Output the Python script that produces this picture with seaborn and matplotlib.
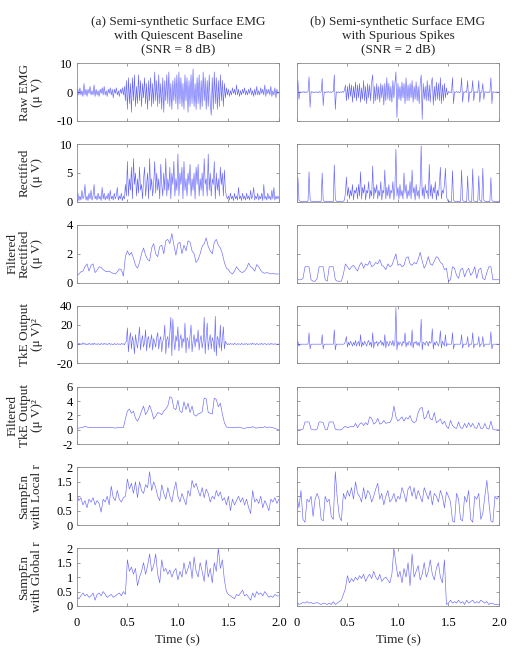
import numpy as np
import matplotlib
matplotlib.use("Agg")
import matplotlib.pyplot as plt
import seaborn as sns

# ——— Data (time axis 0..2 s, uniform sampling per trace) ———
raw_a = [
    -2, 1, -1, 1.5, -1, 0.5, -1.5, 3, -1, 1,
    -1.5, 1, -0.5, 2, -1, 0.5, -1, 2.5, -1.5, 1,
    -1, 0.5, -1.5, 1, -0.5, 1.5, -1, 2, -1, 0.5,
    -1.5, 1, -0.5, 1.5, -1, 1, -2, 1, -0.5, 1.5,
    -1, 0.5, -1.5, 1, -0.5, 1.5, -1, 2, -3, 4,
    -6, 5, -4, 3, -7, 5, -3, 6, -5, 2,
    -4, 6, -3, 4, -5, 3, -2, 5, -4, 3,
    -6, 4, -3, 5, -5, 3, -4, 7, -3, 4,
    -5, 6, -4, 3, -6, 5, -7, 4, -3, 6,
    -4, 7, -5, 3, -6, 4, -3, 5, -4, 6,
    -6, 7, -4, 5, -5, 3, -6, 6, -3, 5,
    -7, 4, -5, 6, -4, 8, -5, 3, -6, 5,
    -4, 6, -6, 4, -5, 7, -3, 5, -6, 4,
    -5, 6, -4, -8, 5, -6, 7, -4, 5, -6,
    4, -5, 6, -3, 4, -5, 3, -2, 1.5, -1,
    1, -1.5, 0.5, -1, 1.5, -0.5, 1, -1, 2.5, -1,
    1, -1.5, 0.5, -1, 1, -0.5, 1.5, -1, 0.5, -1,
    1, -0.5, 1.5, -1, 0.5, -1.5, 1, -1, 2, -1,
    0.5, -1, 1.5, -0.5, 1, -1, 2.5, -1.5, 1, -0.5,
    1, -1, 2, -1.5, 0.5, -1, 1.5, -2, 1, -0.5,
    0,
]
rect_a = [
    0.5, 1.5, 0.2, 1, 0.3, 2, 0.5, 1, 3, 0.3,
    1, 0.2, 1.5, 0.5, 2, 0.3, 1, 3, 0.5, 1,
    0.3, 1.5, 0.5, 1, 0.2, 2.5, 0.5, 1.5, 0.3, 1,
    0.5, 1.5, 0.2, 2, 0.5, 1, 0.3, 1.5, 0.5, 1,
    2.5, 0.3, 1, 0.5, 1.5, 0.2, 1, 0.5, 3, 1,
    7, 1, 4, 2, 6, 0.5, 7.5, 3, 5, 1,
    4, 1.5, 6, 2, 3, 0.5, 4, 6, 1, 3,
    5, 0.5, 7.5, 2, 4, 1, 3, 7, 1.5, 5,
    2, 4, 0.5, 6.5, 3, 1, 5, 2, 7.5, 1,
    4, 2, 6, 0.5, 5, 3, 7, 1, 4, 2,
    8.3, 1, 5, 3, 6, 0.5, 7, 2, 4, 1,
    5, 3, 6.5, 1, 4, 2, 5, 0.5, 6, 3,
    6.5, 1, 4, 2, 5, 1, 7.5, 3, 4, 1,
    8.3, 2, 5, 1, 4, 3, 7, 0.5, 5, 2,
    4, 1, 6, 3, 5, 1, 5.5, 2, 1, 0.5,
    1, 0.3, 1.5, 0.5, 1, 0.2, 1.5, 0.5, 1, 0.3,
    2.5, 0.5, 1, 0.2, 1.5, 0.5, 1, 0.3, 1.5, 0.5,
    1, 0.3, 2, 0.5, 1, 2.5, 0.3, 1, 0.5, 1.5,
    0.3, 1, 0.5, 1.5, 0.2, 3, 0.5, 1, 0.3, 1.5,
    0.5, 1, 0.3, 2, 0.5, 2.5, 0.3, 1, 0.5, 1,
    0.5,
]
filt_rect_a = [
    0.5, 0.6, 0.75, 0.8, 1.1, 1.3, 0.8, 1.2, 1.3, 0.7,
    0.85, 1.1, 1.05, 0.9, 0.8, 0.75, 0.8, 0.7, 0.65, 0.6,
    0.75, 0.95, 0.9, 0.45, 1.8, 2.2, 1.9, 2.1, 1.7, 1.2,
    1.0, 1.4, 2.0, 2.4, 1.9, 1.6, 1.5, 2.4, 2.7, 2.0,
    1.8, 2.5, 2.6, 2.0, 2.9, 3.0, 2.7, 3.4, 2.6, 1.9,
    2.7, 2.8, 2.0, 2.6, 2.2, 2.9, 2.8, 2.2, 2.0, 1.4,
    1.6, 2.0, 2.5, 2.7, 3.1, 2.5, 2.2, 2.0, 2.8, 3.0,
    2.6, 2.4, 2.0, 1.4, 1.0, 0.9, 0.7, 0.6, 0.8, 1.1,
    0.9, 0.75, 0.7, 0.8, 1.0, 1.35, 1.1, 1.0, 0.8, 1.25,
    1.1, 0.85, 0.7, 0.65, 0.7, 0.65, 0.6, 0.65, 0.6, 0.6,
    0.6,
]
tke_a = [
    0.5, -0.5, 1, 0, 0.5, -0.3, 1.5, 0, 0.8, -0.5,
    0.3, -0.4, 1, 0.2, -0.3, 0.8, -0.5, 1.2, 0, 0.4,
    -0.3, 0.6, 0, -0.5, 0.8, 0.2, -0.3, 1, 0, 0.5,
    -0.4, 0.3, 0.9, -0.2, 0.4, 0, -0.5, 0.7, 0.1, -0.3,
    0.6, 0, 0.3, -0.4, 0.8, 0, 0.5, -0.6, 1.5, 3,
    17, -8, 5, 12, -5, 8, 3, -10, 10, 2,
    -4, 6, 18, -6, 4, 9, -3, 2, 15, -7,
    5, 8, -4, 3, 10, -6, 6, 2, -3, 7,
    12, -5, 4, 8, -8, 3, 6, 20, -10, 5,
    8, -4, 12, 28, -12, 26, 4, -6, 9, 3,
    18, -7, 5, 10, -4, 6, 2, 22, -9, 7,
    4, -5, 9, 20, -8, 3, 10, -3, 6, 2,
    15, -6, 5, 9, -4, 3, 28, -10, 8, 22,
    -6, 4, 10, -5, 7, 3, -8, 29, -12, 8,
    5, -4, 20, -7, 6, 18, -5, 3, 1, -0.5,
    0.5, -0.3, 0.8, 0, 0.4, -0.5, 1, 0.2, -0.3, 0.6,
    0, 0.4, -0.4, 0.9, 0.1, -0.3, 0.5, 0, 0.7, -0.4,
    0.3, 0, 0.6, -0.3, 1.2, 0, 0.4, -0.5, 0.8, 0.1,
    -0.3, 0.5, 0, 0.9, -0.4, 0.3, 0.7, 0, -0.3, 0.5,
    0.2, -0.4, 1, 0, 0.4, -0.3, 0.6, 0.1, -0.2, 0.3,
    0,
]
filt_tke_a = [
    0.2, 0.25, 0.3, 0.35, 0.5, 0.4, 0.3, 0.35, 0.3, 0.3,
    0.35, 0.3, 0.3, 0.35, 0.3, 0.3, 0.35, 0.3, 0.3, 0.25,
    0.3, 0.3, 0.3, 0.3, 1.5, 2.6, 2.9, 2.3, 2.6, 1.6,
    1.2, 1.8, 2.6, 3.3, 2.1, 2.6, 3.4, 2.6, 1.5, 1.9,
    2.4, 2.3, 2.1, 2.6, 2.9, 3.3, 4.6, 4.4, 3.0, 2.8,
    4.1, 2.6, 2.4, 3.9, 2.8, 3.7, 2.4, 3.3, 2.1, 1.9,
    2.2, 2.3, 2.5, 4.4, 4.3, 2.4, 2.3, 2.2, 4.4, 4.2,
    3.2, 3.7, 2.2, 1.0, 0.4, 0.35, 0.3, 0.3, 0.35, 0.3,
    0.4, 0.3, 0.25, 0.2, 0.3, 0.35, 0.3, 0.45, 0.3, 0.25,
    0.3, 0.35, 0.3, 0.45, 0.3, 0.4, 0.35, 0.3, 0.2, 0.1,
    0.05,
]
sampen_local_a = [
    1.05, 0.85, 0.95, 0.7, 0.85, 0.6, 0.9, 0.8, 0.95, 0.7,
    0.85, 0.75, 0.45, 0.9, 0.8, 1.0, 0.7, 1.35, 0.95, 0.85,
    1.2, 0.9, 0.8, 0.95, 1.0, 1.6, 1.25, 1.45, 1.1, 1.5,
    0.95, 1.5, 1.2, 1.1, 1.4, 1.3, 1.85, 1.2, 1.5, 1.3,
    1.0, 0.85, 1.4, 1.1, 0.9, 1.3, 1.0, 0.8, 1.2, 1.5,
    1.0, 0.8, 1.1, 0.9, 0.7, 1.2, 1.0, 1.55, 1.3, 1.45,
    1.2, 1.0, 1.3, 0.95, 1.25, 1.1, 0.8, 1.0, 0.9, 1.2,
    1.0, 1.15, 0.85, 0.95, 0.7, 1.0, 0.5, 0.9, 0.7, 0.85,
    1.0, 0.8, 0.95, 0.7, 0.9, 0.6, 0.4, 1.2, 0.8, 0.9,
    0.75, 1.0, 0.6, 0.85, 0.7, 0.5, 0.9, 0.8, 0.95, 0.75,
    0.9,
]
sampen_global_a = [
    0.3, 0.25, 0.35, 0.45, 0.35, 0.4, 0.3, 0.35, 0.45, 0.2,
    0.4, 0.45, 0.35, 0.5, 0.4, 0.3, 0.35, 0.4, 0.3, 0.35,
    0.4, 0.45, 0.35, 0.5, 0.4, 1.6, 1.2, 1.35, 1.1, 1.3,
    0.7, 1.0, 1.2, 1.5, 1.1, 1.4, 1.8, 1.2, 1.4, 1.8,
    1.1, 0.8, 1.6, 1.2, 1.3, 1.1, 1.25, 1.0, 1.2, 1.3,
    0.9, 1.2, 1.0, 1.5, 1.1, 1.3, 1.55, 0.95, 1.7, 1.2,
    1.0, 1.5, 1.2, 0.85, 1.6, 1.0, 1.3, 0.8, 1.5, 1.2,
    2.0, 1.3, 1.6, 0.9, 0.5, 0.4, 0.35, 0.3, 0.25, 0.4,
    0.35, 0.45, 0.55, 0.35, 0.4, 0.3, 0.2, 0.45, 0.3, 0.5,
    0.4, 0.45, 0.35, 0.5, 0.4, 0.3, 0.35, 0.3, 0.4, 0.35,
    0.35,
]

raw_b = [
    0, 4, -2.5, 0.2, -0.2, 0.1, -0.1, 0.2, -0.2, 0.1,
    -0.1, 0.2, 5.3, -5.3, 0.2, -0.1, 0.1, -0.2, 0.1, -0.1,
    0.1, -0.2, 0.2, -0.1, 0.1, 4.7, -4.7, 0.1, -0.2, 0.1,
    -0.1, 0.2, -0.1, 0.1, -0.2, 0.1, 0.2, 6, -6, 0.1,
    -0.1, 0.1, -0.2, 0.1, -0.1, 0.2, -0.1, 0.5, 2.5, -3,
    2, -2.5, 3, -1.5, 2.5, -3.5, 2, -2, 3.5, -3,
    2.5, -2, 3, -3.5, 1.5, -2.5, 4, -3, 2, -4,
    3, -2, 2.5, -3, 3.5, 6, -4, 2, -3, 3,
    -2.5, 2, -3.5, 3, -2, 2.5, -4.5, 3, -3, 5,
    -2.5, 3, -3, 2, -3.5, 4, -2, 3, 7, -8.8,
    3, -2.5, 2, -3, 3.5, -2, 3, -4, 5, -3,
    2.5, -3, 3, -2, 4, -3.5, 2, -2.5, 3.5, -3,
    2, -4, 3, 6, -9.4, 3, -2.5, 2, -3, 4,
    -3, 2.5, -3.5, 3, 5, -4.5, 2, -3, 3.5, -2.5,
    3, -3, 5, -4, 2.5, -3, 3, -2, 1.5, -1,
    0.2, -0.1, 0.1, -0.2, 5, -4, 0.1, -0.1, 0.2, -0.1,
    0.1, -0.2, 0.1, 5, -3.5, 0.1, -0.1, 0.2, -0.1, 4,
    -3.5, 0.1, -0.2, 0.1, 4, -3, 0.2, -0.1, 0.1, -0.2,
    4, -3.5, 0.1, -0.1, 3, -2.5, 0.2, -0.1, 0.1, -0.2,
    0.1, -0.1, 5, -4, 0.2, -0.1, 0.1, -0.2, 0.1, -0.1,
    0,
]
rect_b = [
    0.1, 4.2, 0.3, 0.1, 0.05, 0.1, 0.05, 0.1, 0.05, 0.1,
    0.05, 0.1, 5.2, 0.5, 0.1, 0.05, 0.1, 0.05, 0.1, 0.05,
    0.1, 0.05, 0.1, 0.05, 0.1, 5.0, 0.4, 0.1, 0.05, 0.1,
    0.05, 0.1, 0.05, 0.1, 0.05, 0.1, 0.05, 6.4, 0.5, 0.1,
    0.05, 0.1, 0.05, 0.1, 0.05, 0.1, 0.1, 0.3, 1.5, 4.3,
    1, 2.5, 0.5, 2, 1, 3, 0.3, 2, 1.5, 2.5,
    0.5, 3, 1, 5.2, 0.5, 2.5, 1.5, 3, 0.3, 2,
    1.5, 3.5, 0.5, 2, 1, 6.2, 0.5, 2.5, 1.5, 3,
    0.5, 2, 1, 3.5, 0.3, 2, 1.5, 5.5, 0.5, 2.5,
    1, 3, 0.5, 2, 1.5, 3.5, 0.3, 2.5, 9.1, 1,
    2.5, 0.5, 3, 1, 2, 0.5, 5, 1.5, 3, 0.5,
    2, 1, 3.5, 0.5, 5.5, 1.5, 2.5, 0.3, 3, 1,
    2, 0.5, 3, 9.7, 1, 2.5, 0.5, 3, 1.5, 2,
    0.5, 6.5, 1, 3, 0.5, 2.5, 1.5, 3.5, 0.3, 2,
    1, 3, 6, 0.5, 2, 1.5, 3, 5.8, 1, 0.3,
    0.1, 0.05, 0.1, 0.05, 5.4, 0.3, 0.1, 0.05, 0.1, 0.05,
    0.1, 0.05, 0.1, 5.5, 0.3, 0.1, 0.05, 0.1, 0.05, 4.5,
    0.3, 0.1, 0.05, 0.1, 5.7, 0.2, 0.1, 0.05, 0.1, 0.05,
    4.5, 0.3, 0.1, 0.05, 5.8, 0.3, 0.1, 0.05, 0.1, 0.05,
    0.1, 0.05, 4.2, 0.3, 0.1, 0.05, 0.1, 0.05, 0.1, 0.05,
    0.1,
]
filt_rect_b = [
    0.2, 0.2, 0.2, 0.3, 1.1, 1.1, 1.1, 0.2, 0.1, 0.1,
    0.3, 1.1, 1.1, 1.1, 0.2, 0.1, 1.1, 1.1, 1.1, 0.2,
    0.1, 0.1, 0.1, 0.6, 1.3, 1.1, 0.9, 1.1, 1.2, 1.0,
    0.8, 1.2, 1.4, 1.0, 1.3, 1.2, 1.5, 1.1, 1.2, 1.4,
    1.3, 1.6, 1.2, 1.1, 0.9, 1.3, 1.1, 1.2, 1.6, 2.0,
    1.2, 1.3, 1.1, 1.2, 1.7, 1.8, 1.3, 1.2, 1.4, 1.3,
    1.6, 2.1, 1.5, 1.0, 1.3, 1.8, 1.3, 1.2, 1.5, 1.8,
    1.7, 1.4, 1.3, 0.9, 1.0, 0.1, 0.2, 1.1, 1.0, 0.5,
    0.3, 0.9, 1.0, 0.4, 0.8, 1.0, 0.5, 0.7, 1.1, 0.3,
    0.9, 1.0, 0.3, 0.2, 0.7, 1.1, 1.1, 0.2, 0.2, 0.2,
    0.2,
]
tke_b = [
    0, 3, -2, 0.1, 0, 0.1, 0, 0.1, 0, 0.1,
    0, 0.1, 12, -5, 0.1, 0, 0.1, 0, 0.1, 0,
    0.1, 0, 0.1, 0, 0.1, 10, -5, 0.1, 0, 0.1,
    0, 0.1, 0, 0.1, 0, 0.1, 0, 15, -6, 0.1,
    0, 0.1, 0, 0.1, 0, 0.1, 0, 0.5, 3, 8,
    -3, 2, -1, 3, 1, -2, 2, -1, 4, -2,
    1, 3, -2, 10, -3, 2, -1, 3, 1, -2,
    2, 4, -1, 2, -3, 12, -4, 2, 1, 3,
    -2, 2, 1, 4, -1, 2, -2, 10, -4, 3,
    1, -2, 3, 2, -1, 4, -2, 2, 38, -6,
    3, -1, 2, 1, -2, 3, 1, 12, -3, 2,
    -1, 3, 2, -2, 15, -4, 2, 1, 3, -1,
    2, -2, 3, 26, -6, 2, 1, -1, 3, 2,
    -2, 3, 1, 2, 16, -5, 2, -1, 3, 1,
    -2, 2, 14, -4, 3, 1, -2, 10, -2, 0.5,
    0, 0.1, 0, 0.1, 12, -5, 0.1, 0, 0.1, 0,
    0.1, 0, 0.1, 10, -4, 0.1, 0, 0.1, 0, 8,
    -3, 0.1, 0, 0.1, 12, -4, 0.1, 0, 0.1, 0,
    8, -3, 0.1, 0, 8, -3, 0.1, 0, 0.1, 0,
    0.1, 0, 13, -5, 0.1, 0, 0.1, 0, 0.1, 0,
    0,
]
filt_tke_b = [
    0.0, 0.0, 0.0, 0.1, 1.1, 1.1, 1.1, 0.1, 0.0, 0.0,
    0.1, 1.1, 1.1, 1.0, 0.1, 0.0, 1.1, 1.1, 1.1, 0.1,
    0.0, 0.0, 0.0, 0.3, 0.5, 0.3, 0.4, 0.5, 0.4, 0.9,
    0.3, 0.8, 1.0, 0.6, 1.0, 0.7, 1.8, 1.6, 0.8, 1.0,
    1.6, 0.8, 0.9, 1.3, 0.9, 1.0, 1.0, 1.6, 3.3, 1.8,
    1.2, 1.5, 1.8, 1.2, 1.7, 1.5, 2.0, 1.2, 1.0, 1.2,
    2.4, 3.0, 3.1, 1.5, 1.8, 2.7, 1.5, 1.4, 2.4, 1.0,
    1.2, 1.5, 0.8, 1.2, 0.5, 0.2, 1.3, 0.6, 0.3, 0.2,
    1.1, 0.3, 0.2, 0.9, 0.3, 1.0, 0.4, 0.9, 0.3, 0.2,
    1.0, 0.2, 0.2, 0.9, 0.2, 0.1, 1.2, 0.1, 0.0, 0.0,
    0.0,
]
sampen_local_b = [
    1.0, 0.6, 1.2, 0.2, 0.1, 0.9, 0.8, 1.0, 0.3, 0.9,
    1.1, 0.9, 0.2, 0.15, 1.0, 0.8, 0.9, 0.3, 0.2, 1.85,
    0.9, 0.3, 0.15, 1.1, 0.9, 1.2, 1.0, 1.3, 0.9, 1.5,
    1.1, 1.0, 0.8, 1.3, 0.9, 1.2, 1.1, 0.8, 1.0, 1.25,
    1.45, 0.9, 1.1, 0.7, 1.0, 1.2, 0.8, 0.9, 1.1, 0.8,
    1.0, 0.9, 1.3, 1.1, 0.8, 1.25, 1.35, 1.0, 1.3, 0.9,
    1.2, 1.0, 0.8, 1.3, 1.1, 0.9, 1.2, 0.7, 1.1, 1.0,
    0.8, 1.2, 1.0, 0.6, 1.15, 1.0, 0.8, 0.15, 0.1, 1.1,
    0.9, 0.2, 0.15, 1.0, 0.8, 1.2, 0.2, 0.1, 1.0, 0.9,
    1.1, 0.2, 0.4, 1.0, 1.55, 0.8, 0.15, 0.1, 1.0, 0.9,
    1.0,
]
sampen_global_b = [
    0.15, 0.05, 0.08, 0.12, 0.1, 0.15, 0.1, 0.12, 0.08, 0.1,
    0.12, 0.08, 0.05, 0.1, 0.08, 0.05, 0.1, 0.05, 0.15, 0.05,
    0.1, 0.15, 0.2, 0.4, 0.6, 1.05, 0.8, 0.95, 0.85, 1.0,
    0.9, 1.05, 0.95, 1.1, 0.85, 1.0, 1.1, 0.95, 1.2, 1.0,
    0.9, 1.1, 0.85, 0.95, 1.0, 0.9, 0.8, 1.1, 2.0, 1.45,
    1.0, 1.2, 0.8, 1.3, 1.0, 1.5, 0.7, 1.8, 1.0, 1.2,
    1.4, 0.9, 1.1, 1.5, 1.0, 1.2, 1.6, 1.1, 0.9, 1.3,
    1.5, 1.0, 0.8, 1.6, 0.05, 0.1, 0.2, 0.1, 0.15, 0.1,
    0.2, 0.1, 0.15, 0.05, 0.2, 0.1, 0.15, 0.2, 0.1, 0.15,
    0.1, 0.2, 0.15, 0.1, 0.15, 0.05, 0.1, 0.08, 0.05, 0.05,
    0.05,
]

col_titles = [
    "(a) Semi-synthetic Surface EMG\nwith Quiescent Baseline\n(SNR = 8 dB)",
    "(b) Semi-synthetic Surface EMG\nwith Spurious Spikes\n(SNR = 2 dB)",
]
row_labels = [
    "Raw EMG\n(\u03bc V)",
    "Rectified\n(\u03bc V)",
    "Filtered\nRectified\n(\u03bc V)",
    "TkE Output\n(\u03bc V)\u00b2",
    "Filtered\nTkE Output\n(\u03bc V)\u00b2",
    "SampEn\nwith Local r",
    "SampEn\nwith Global r",
]
row_ylims = [(-10, 10), (0, 10), (0, 4), (-20, 40), (-2, 6), (0, 2), (0, 2)]
row_yticks = [[-10, 0, 10], [0, 5, 10], [0, 2, 4], [-20, 0, 20, 40],
              [-2, 0, 2, 4, 6], [0, 0.5, 1, 1.5, 2], [0, 0.5, 1, 1.5, 2]]
row_yticklabels = [["-10", "0", "10"], ["0", "5", "10"], ["0", "2", "4"],
                   ["-20", "0", "20", "40"], ["-2", "0", "2", "4", "6"],
                   ["0", "0.5", "1", "1.5", "2"], ["0", "0.5", "1", "1.5", "2"]]
x_ticks = [0, 0.5, 1.0, 1.5, 2.0]
x_ticklabels = ["0", "0.5", "1.0", "1.5", "2.0"]

traces = [
    [raw_a, rect_a, filt_rect_a, tke_a, filt_tke_a, sampen_local_a, sampen_global_a],
    [raw_b, rect_b, filt_rect_b, tke_b, filt_tke_b, sampen_local_b, sampen_global_b],
]

# ——— Style ———
sns.set_theme(style="white")
plt.rcParams["font.family"] = ["Liberation Serif", "DejaVu Serif"]
plt.rcParams["axes.unicode_minus"] = False

fig, axes = plt.subplots(7, 2, figsize=(5.16, 6.52), dpi=100)
fig.subplots_adjust(left=0.149, right=0.967, top=0.903, bottom=0.0706,
                    wspace=0.089, hspace=0.40)

for c in range(2):
    for r in range(7):
        ax = axes[r, c]
        y = np.array(traces[c][r], dtype=float)
        t = np.linspace(0, 2, len(y))
        sns.lineplot(x=t, y=y, ax=ax, color="#0000ff", linewidth=0.45, alpha=0.6,
                     estimator=None, sort=False, legend=False)
        ax.set_xlim(0, 2)
        ax.set_ylim(*row_ylims[r])
        ax.set_xticks(x_ticks)
        ax.set_yticks(row_yticks[r])
        ax.set_xlabel("")
        ax.set_ylabel("")
        for s in ax.spines.values():
            s.set_color("#8c8c8c")
            s.set_linewidth(0.6)
        ax.tick_params(direction="in", length=2.5, width=0.6, color="#8c8c8c",
                       top=True, right=True, bottom=True, left=True,
                       labelsize=9, labelcolor="black")
        ax.tick_params(axis="y", pad=3)
        ax.tick_params(axis="x", pad=8)
        if c == 0:
            ax.set_yticklabels(row_yticklabels[r])
            ax.set_ylabel(row_labels[r], fontsize=9.5, linespacing=1.0)
            ax.yaxis.set_label_coords(-0.17, 0.5)
        else:
            ax.set_yticklabels([])
        if r == 6:
            ax.set_xticklabels(x_ticklabels)
            ax.set_xlabel("Time (s)", fontsize=9.5, labelpad=4)
        else:
            ax.set_xticklabels([])
    axes[0, c].set_title(col_titles[c], fontsize=9.5, pad=8, linespacing=1.15)

fig.savefig("out.png", dpi=100, facecolor="white")
